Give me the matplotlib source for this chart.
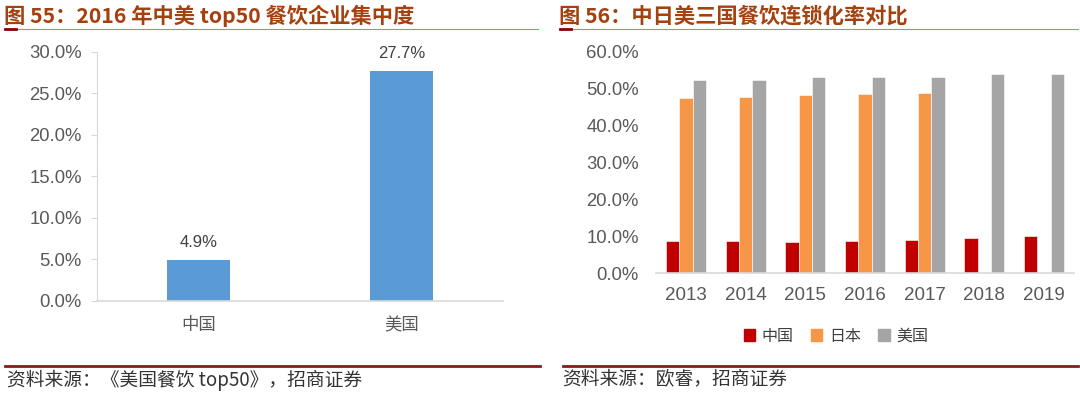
import matplotlib
matplotlib.use("Agg")
import matplotlib.pyplot as plt
from matplotlib.lines import Line2D
from matplotlib.ticker import FuncFormatter
from matplotlib.patches import Rectangle

plt.rcParams['font.family'] = ['Liberation Sans', 'Noto Sans CJK SC', 'DejaVu Sans']

# ---- data ----
left_categories = ['中国', '美国']
left_values = [4.9, 27.7]

years = ['2013', '2014', '2015', '2016', '2017', '2018', '2019']
china_chain = [8.7, 8.7, 8.5, 8.7, 9.0, 9.5, 10.1]
japan_chain = [47.5, 47.9, 48.4, 48.5, 48.8, None, None]
us_chain = [52.4, 52.5, 53.1, 53.3, 53.1, 53.9, 54.1]
series_names = ['中国', '日本', '美国']

W, H = 1080, 394
fig = plt.figure(figsize=(W / 100, H / 100), dpi=100)
fig.patch.set_facecolor('white')

title_color = '#A5400F'
tick_color = '#595959'
axis_color = '#D9D9D9'
cjk = ['Noto Sans CJK SC', 'DejaVu Sans']

def fx(px):
    return px / W

def fy(py):
    return 1 - py / H

# ---- titles ----
fig.text(fx(4), fy(16), '图 55：2016 年中美 top50 餐饮企业集中度', fontsize=15.3, fontweight='bold',
         color=title_color, va='center', ha='left', family=cjk)
fig.text(fx(559), fy(16), '图 56：中日美三国餐饮连锁化率对比', fontsize=15.3, fontweight='bold',
         color=title_color, va='center', ha='left', family=cjk)

# title underlines
for x0, x1 in [(5, 538), (560, 1078)]:
    fig.add_artist(Line2D([fx(x0), fx(x1)], [fy(29), fy(29)], color='#C8807A', lw=0.8))
    fig.add_artist(Line2D([fx(x0), fx(x0 + 11)], [fy(29), fy(29)], color='#8B0000', lw=2.0))

# footer lines
for x0, x1 in [(5, 540), (563, 1078)]:
    fig.add_artist(Line2D([fx(x0), fx(x1)], [fy(366), fy(366)], color='#8B1A1A', lw=2.0))

fig.text(fx(7), fy(380), '资料来源：《美国餐饮 top50》，招商证券', fontsize=13.5, color='#333333',
         va='center', ha='left', family=cjk)
fig.text(fx(562), fy(380), '资料来源：欧睿，招商证券', fontsize=13.5, color='#333333',
         va='center', ha='left', family=cjk)

pct_fmt = FuncFormatter(lambda v, p: f'{v:.1f}%')

# ---- left chart ----
ax1 = fig.add_axes([fx(97), fy(300.7), fx(503) - fx(97), fy(52) - fy(300.7)])
xpos = range(len(left_categories))
bars = ax1.bar(xpos, left_values, width=0.315, color='#5B9BD5')
ax1.set_xlim(-0.5, len(left_categories) - 0.5)
ax1.set_ylim(0, 30)
ax1.set_yticks([0, 5, 10, 15, 20, 25, 30])
ax1.yaxis.set_major_formatter(pct_fmt)
ax1.set_xticks(list(xpos))
ax1.set_xticklabels(left_categories, family=cjk, fontsize=12.5, color=tick_color)
ax1.bar_label(bars, labels=[f'{v:.1f}%' for v in left_values], padding=7,
              fontsize=12, color='#404040')
for s in ['top', 'right']:
    ax1.spines[s].set_visible(False)
ax1.spines['left'].set_color(axis_color)
ax1.spines['bottom'].set_color(axis_color)
ax1.spines['bottom'].set_linewidth(1.2)
ax1.tick_params(axis='y', length=4, color=axis_color, labelsize=13.3, labelcolor=tick_color, pad=7)
ax1.tick_params(axis='x', length=0, pad=11)

# ---- right chart ----
ax2 = fig.add_axes([fx(656), fy(273.3), fx(1074) - fx(656), fy(52) - fy(273.3)])
n = len(years)
bw = 0.223
colors = ['#C00000', '#F79646', '#A5A5A5']
all_series = [china_chain, japan_chain, us_chain]
for i, (vals, c, name) in enumerate(zip(all_series, colors, series_names)):
    xs = [k + (i - 1) * bw for k in range(n) if vals[k] is not None]
    ys = [v for v in vals if v is not None]
    ax2.bar(xs, ys, width=bw, color=c, label=name, edgecolor='white', linewidth=0.4)
ax2.set_xlim(-0.5, n - 0.5)
ax2.set_ylim(0, 60)
ax2.set_yticks([0, 10, 20, 30, 40, 50, 60])
ax2.yaxis.set_major_formatter(pct_fmt)
ax2.set_xticks(range(n))
ax2.set_xticklabels(years, fontsize=13.5, color=tick_color)
for s in ['top', 'right', 'left']:
    ax2.spines[s].set_visible(False)
ax2.spines['bottom'].set_color(axis_color)
ax2.spines['bottom'].set_linewidth(1.2)
ax2.tick_params(axis='y', length=0, labelsize=13.3, labelcolor=tick_color, pad=12.5)
ax2.tick_params(axis='x', length=0, pad=10)

handles = [Rectangle((0, 0), 1, 1, color=c) for c in colors]
fig.legend(handles, series_names, loc='center', bbox_to_anchor=(fx(836), fy(336)), ncol=3,
           frameon=False, prop={'family': cjk, 'size': 11.5}, handlelength=0.7, handleheight=0.7,
           handletextpad=0.4, columnspacing=1.1, labelcolor='#404040')

fig.savefig('out.png', dpi=100, facecolor='white')
